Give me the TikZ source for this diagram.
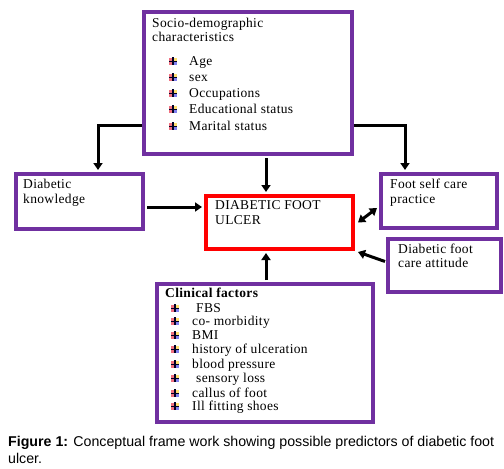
\documentclass[tikz,border=0pt]{standalone}
\usepackage{fontspec}
\setmainfont{Liberation Serif}[LetterSpace=2.5]
\newfontfamily\capfont{Liberation Sans}
\usetikzlibrary{arrows.meta,calc}
\definecolor{pur}{HTML}{7030A0}
\definecolor{bred}{HTML}{F07080}
\definecolor{byel}{HTML}{FFE070}
\definecolor{bblu}{HTML}{8080F0}
\begin{document}
\begin{tikzpicture}[x=1pt,y=-1pt,
  pbox/.style={draw=pur, line width=4pt, fill=white, inner sep=0pt},
  rbox/.style={draw=red, line width=4pt, fill=white, inner sep=0pt},
  txt/.style={anchor=base west, inner sep=0pt, font=\fontsize{13.5}{14}\selectfont},
  arr/.style={line width=3pt, -{Triangle[length=7pt,width=9pt]}},
  darr/.style={line width=3pt, {Triangle[length=7pt,width=9pt]}-{Triangle[length=7pt,width=9pt]}},
  bul/.pic={
    \fill[bred] (-4,-3.5) rectangle (0,3.5);
    \fill[byel] (0,-3.5) rectangle (4,0);
    \fill[bblu] (0,0) rectangle (4,3.5);
    \draw[line width=1.3pt, black!85!blue] (-4,0.5) -- (4,0.5) (0,-4) -- (0,4);
  }]
\useasboundingbox (0,0) rectangle (504,469);
\fill[white] (0,0) rectangle (504,469);

% boxes
\node[pbox, anchor=north west, minimum width=208pt, minimum height=142pt] (socio) at (142,10) {};
\node[pbox, anchor=north west, minimum width=127pt, minimum height=55pt] (dk) at (14,172) {};
\node[rbox, anchor=north west, minimum width=147pt, minimum height=53pt] (dfu) at (204,194) {};
\node[pbox, anchor=north west, minimum width=116pt, minimum height=54pt] (fsc) at (379,172) {};
\node[pbox, anchor=north west, minimum width=113pt, minimum height=53pt] (att) at (386,237) {};
\node[pbox, anchor=north west, minimum width=216pt, minimum height=138pt] (clin) at (155,282) {};

% helper coordinates
\coordinate (lvl) at (0,125);
\coordinate (dkx) at (98,0);
\coordinate (fscx) at (405,0);
\coordinate (mx) at (266,0);
\coordinate (ly) at (0,207);
\coordinate (fy) at (0,208);

% connectors
\draw[arr] (socio.west |- lvl) -| ([yshift=2pt]dk.north -| dkx);
\draw[arr] (socio.east |- lvl) -| ([yshift=2pt]fsc.north -| fscx);
\draw[arr] ([yshift=-2pt]socio.south -| mx) -- ([yshift=2pt]dfu.north -| mx);
\draw[arr] ([yshift=2pt]clin.north -| mx) -- ([yshift=-2pt]dfu.south -| mx);
\draw[arr] ([xshift=2pt]dk.east |- ly) -- ([xshift=-2pt]dfu.west |- ly);
\draw[darr] ([xshift=3pt]dfu.east) -- ([xshift=-2pt]fsc.west |- fy);
\draw[arr] ([xshift=-1pt,yshift=4pt]att.west) -- ([xshift=3pt,yshift=-1pt]dfu.south east);

% socio text
\node[txt] (s0) at (152,27) {Socio-demographic};
\node[txt] (s1) at (152,41) {characteristics};
\foreach \t/\y [count=\i] in {Age/65, sex/81, Occupations/97, Educational status/113, Marital status/130}{
  \pic at (173,\y-4) {bul};
  \node[txt] (si\i) at (189,\y) {\t};
}

% other boxes text
\node[txt] (dk1) at (23,188) {Diabetic};
\node[txt] (dk2) at (23,203) {knowledge};
\node[txt] (df1) at (215,209) {DIABETIC FOOT};
\node[txt] (df2) at (215,224) {ULCER};
\node[txt] (fs1) at (390,188) {Foot self care};
\node[txt] (fs2) at (390,203) {practice};
\node[txt] (at1) at (398,253) {Diabetic foot};
\node[txt] (at2) at (398,267) {care attitude};

% clinical text
\node[txt, font=\fontsize{13.5}{14}\selectfont\bfseries] (c0) at (165,297) {Clinical factors};
\foreach \t/\y/\xx [count=\i] in {FBS/312/196, co- morbidity/325/192, BMI/339/192, history of ulceration/353/192, blood pressure/368/192, sensory loss/382/196, callus of foot/397/192, Ill fitting shoes/410/192}{
  \pic at (175,\y-4) {bul};
  \node[txt] (ci\i) at (\xx,\y) {\t};
}

% caption
\node[anchor=base west, inner sep=0pt, font=\capfont\fontsize{14.2}{16}\selectfont] (cap1) at (8,446) {\textbf{Figure 1:} Conceptual frame work showing possible predictors of diabetic foot};
\node[anchor=base west, inner sep=0pt, font=\capfont\fontsize{14.2}{16}\selectfont] (cap2) at (8,463) {ulcer.};
\end{tikzpicture}
\end{document}
